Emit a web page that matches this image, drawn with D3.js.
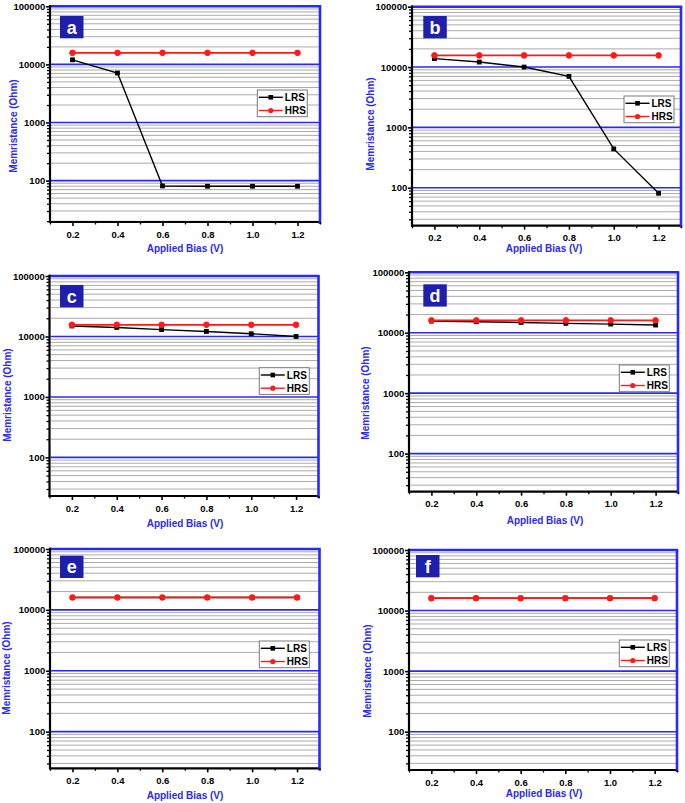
<!DOCTYPE html>
<html>
<head>
<meta charset="utf-8">
<script src="https://cdn.jsdelivr.net/npm/d3@7"></script>
<style>
  html, body { margin: 0; padding: 0; background: #ffffff; }
  svg { display: block; font-family: "Liberation Sans", Arial, sans-serif; }
</style>
</head>
<body>
<script>
// ---------- DATA ----------
const xValues = [0.2, 0.4, 0.6, 0.8, 1.0, 1.2];
const xTickValues = [0.2, 0.4, 0.6, 0.8, 1.0, 1.2];
const xTickLabels = ["0.2", "0.4", "0.6", "0.8", "1.0", "1.2"];
const xMinorTicks = [0.1, 0.3, 0.5, 0.7, 0.9, 1.1, 1.3];
const yTickValues = [100, 1000, 10000, 100000];
const yTickLabels = ["100", "1000", "10000", "100000"];
const seriesNames = ["LRS", "HRS"];
const panelLetters = ["a", "b", "c", "d", "e", "f"];

const lrsA = [12000, 7100, 81, 80, 80, 80];
const hrsA = [15800, 15800, 15800, 15800, 15800, 15800];
const lrsB = [13800, 12100, 10000, 7000, 440, 81];
const hrsB = [15600, 15600, 15600, 15600, 15600, 15600];
const lrsC = [14900, 14100, 13000, 12100, 11100, 10000];
const hrsC = [15600, 15600, 15600, 15600, 15600, 15600];
const lrsD = [15600, 15200, 14800, 14300, 13900, 13400];
const hrsD = [16000, 16000, 16000, 16000, 16000, 16000];
const lrsE = [16000, 16000, 16000, 16000, 16000, 16000];
const hrsE = [16000, 16000, 16000, 16000, 16000, 16000];
const lrsF = [16000, 16000, 16000, 16000, 16000, 16000];
const hrsF = [16000, 16000, 16000, 16000, 16000, 16000];

const lrsAll = [lrsA, lrsB, lrsC, lrsD, lrsE, lrsF];
const hrsAll = [hrsA, hrsB, hrsC, hrsD, hrsE, hrsF];
const yMins = [19.4, 23.5, 23, 23.4, 25, 23.3];

// ---------- LAYOUT ----------
const layout = [
  {left: 50,   right: 320,   top: 6.3,   bottom: 222,   lg: [257.3, 90],   lt: [60, 16],      yl: [13, 126],  xl: [185, 252]},
  {left: 412,  right: 681,   top: 6.7,   bottom: 225.7, lg: [624, 96],     lt: [423.3, 16],   yl: [370, 124], xl: [544, 252]},
  {left: 49.5, right: 318.5, top: 276,   bottom: 496,   lg: [259.3, 367.7],lt: [60, 285],     yl: [7, 395],   xl: [185, 527]},
  {left: 409,  right: 678,   top: 272.3, bottom: 491.7, lg: [619.3, 365],  lt: [423.3, 284.3],yl: [365, 393], xl: [545, 524]},
  {left: 50,   right: 319.5, top: 549,   bottom: 768.3, lg: [259.3, 641],  lt: [60, 555.7],   yl: [6, 668],   xl: [185, 799]},
  {left: 409,  right: 677,   top: 550,   bottom: 770,   lg: [619.3, 640],  lt: [416, 555],     yl: [367.3, 671],xl: [544, 797]}
];

const BLUE = "#2828ff";
const TITLE_BLUE = "#2a2af0";
const NAVY = "#1f1fae";
const RED = "#ff1a1a";

const svg = d3.select("body").append("svg")
  .attr("width", 685).attr("height", 803);

layout.forEach((p, idx) => {
  const yMin = yMins[idx];
  const x = d3.scaleLinear().domain([0.1, 1.3]).range([p.left, p.right]);
  const y = d3.scaleLog().domain([yMin, 100000]).range([p.bottom, p.top]);
  const g = svg.append("g");

  // minor values
  const minorVals = [];
  [1, 10, 100, 1000, 10000].forEach(dec => {
    for (let m = 2; m <= 9; m++) {
      const v = m * dec;
      if (v >= yMin && v < 100000) minorVals.push(v);
    }
  });

  // minor grid
  g.append("g").selectAll("line").data(minorVals).join("line")
    .attr("x1", p.left + 1).attr("x2", p.right)
    .attr("y1", d => y(d)).attr("y2", d => y(d))
    .attr("stroke", "#a2a2a2").attr("stroke-width", 0.9);

  // major blue grid
  g.append("g").selectAll("line").data(yTickValues.filter(v => v < 100000)).join("line")
    .attr("x1", p.left + 1).attr("x2", p.right)
    .attr("y1", d => y(d)).attr("y2", d => y(d))
    .attr("stroke", BLUE).attr("stroke-width", 1.6);

  // top & right borders
  g.append("line").attr("x1", p.left).attr("x2", p.right + 1.2)
    .attr("y1", y(100000)).attr("y2", y(100000))
    .attr("stroke", BLUE).attr("stroke-width", 2.6);
  g.append("line").attr("x1", p.right).attr("x2", p.right)
    .attr("y1", y(100000)).attr("y2", p.bottom + 2)
    .attr("stroke", BLUE).attr("stroke-width", 2.6);

  // Left axis (major)
  const yAxis = g.append("g").attr("transform", `translate(${p.left},0)`)
    .call(d3.axisLeft(y).tickValues(yTickValues)
      .tickFormat((d, i) => yTickLabels[i]).tickSize(4).tickSizeOuter(0).tickPadding(0.8));
  yAxis.select(".domain").remove();
  yAxis.selectAll(".tick line").attr("stroke", "#000").attr("stroke-width", 1.6);
  yAxis.selectAll(".tick text").attr("font-size", "9.5px").attr("font-weight", "bold")
    .attr("fill", "#000").attr("font-family", "Liberation Sans, Arial, sans-serif");
  // Left axis minor ticks
  const yMinor = g.append("g").attr("transform", `translate(${p.left},0)`)
    .call(d3.axisLeft(y).tickValues(minorVals).tickFormat("").tickSize(3).tickSizeOuter(0));
  yMinor.select(".domain").remove();
  yMinor.selectAll(".tick line").attr("stroke", "#000").attr("stroke-width", 1.3);

  // Bottom axis (major)
  const xAxis = g.append("g").attr("transform", `translate(0,${p.bottom})`)
    .call(d3.axisBottom(x).tickValues(xTickValues)
      .tickFormat((d, i) => xTickLabels[i]).tickSize(4).tickSizeOuter(0).tickPadding(5));
  xAxis.select(".domain").remove();
  xAxis.selectAll(".tick line").attr("stroke", "#000").attr("stroke-width", 1.6);
  xAxis.selectAll(".tick text").attr("font-size", "9.5px").attr("font-weight", "bold")
    .attr("fill", "#000").attr("font-family", "Liberation Sans, Arial, sans-serif");
  const xMinor = g.append("g").attr("transform", `translate(0,${p.bottom})`)
    .call(d3.axisBottom(x).tickValues(xMinorTicks).tickFormat("").tickSize(2.5).tickSizeOuter(0));
  xMinor.select(".domain").remove();
  xMinor.selectAll(".tick line").attr("stroke", "#000").attr("stroke-width", 1.3);

  // axis lines (black)
  g.append("line").attr("x1", p.left).attr("x2", p.left)
    .attr("y1", y(100000) - 1.3).attr("y2", p.bottom + 1)
    .attr("stroke", "#000").attr("stroke-width", 2.2);
  g.append("line").attr("x1", p.left - 1).attr("x2", p.right - 1)
    .attr("y1", p.bottom).attr("y2", p.bottom)
    .attr("stroke", "#000").attr("stroke-width", 2.2);

  // series
  const lrs = lrsAll[idx], hrs = hrsAll[idx];
  const line = vals => d3.line().x((d, i) => x(xValues[i])).y(d => y(d))(vals);

  g.append("path").attr("d", line(lrs)).attr("fill", "none")
    .attr("stroke", "#000").attr("stroke-width", 1.4);
  g.append("g").selectAll("rect").data(lrs).join("rect")
    .attr("x", (d, i) => x(xValues[i]) - 2.4).attr("y", d => y(d) - 2.4)
    .attr("width", 4.8).attr("height", 4.8).attr("fill", "#000");

  g.append("path").attr("d", line(hrs)).attr("fill", "none")
    .attr("stroke", RED).attr("stroke-width", 1.8);
  g.append("g").selectAll("circle").data(hrs).join("circle")
    .attr("cx", (d, i) => x(xValues[i])).attr("cy", d => y(d))
    .attr("r", 2.8).attr("fill", RED).attr("stroke", RED).attr("stroke-width", 1);

  // legend
  const [lx, ly] = p.lg;
  const lgW = 50, lgH = 26.7;
  const lg = g.append("g");
  lg.append("rect").attr("x", lx).attr("y", ly).attr("width", lgW).attr("height", lgH)
    .attr("fill", "#fff").attr("stroke", "#7a7a7a").attr("stroke-width", 1);
  const rows = [
    {name: seriesNames[0], color: "#000", marker: "square", dy: 7.3},
    {name: seriesNames[1], color: RED, marker: "circle", dy: 20.5}
  ];
  rows.forEach(r => {
    const cy = ly + r.dy;
    lg.append("line").attr("x1", lx + 1.5).attr("x2", lx + 25.5)
      .attr("y1", cy).attr("y2", cy).attr("stroke", r.color).attr("stroke-width", 1.4);
    if (r.marker === "square") {
      lg.append("rect").attr("x", lx + 13.5 - 2.3).attr("y", cy - 2.3)
        .attr("width", 4.6).attr("height", 4.6).attr("fill", r.color);
    } else {
      lg.append("circle").attr("cx", lx + 13.5).attr("cy", cy).attr("r", 2.6).attr("fill", r.color);
    }
    lg.append("text").attr("x", lx + 27.5).attr("y", cy).attr("dy", "0.36em")
      .attr("font-size", "10px").attr("font-weight", "bold").attr("fill", "#000")
      .text(r.name);
  });

  // panel letter
  const [tx, ty] = p.lt;
  g.append("rect").attr("x", tx).attr("y", ty).attr("width", 23.5).attr("height", 22.3)
    .attr("fill", NAVY);
  g.append("text").attr("x", tx + 11.75).attr("y", ty + 11.15).attr("dy", "0.36em")
    .attr("text-anchor", "middle").attr("font-size", "18px").attr("font-weight", "bold")
    .attr("fill", "#fff").text(panelLetters[idx]);

  // axis titles
  g.append("text")
    .attr("transform", `translate(${p.yl[0]},${p.yl[1]}) rotate(-90)`)
    .attr("dy", "0.36em").attr("text-anchor", "middle")
    .attr("font-size", "10px").attr("font-weight", "bold").attr("fill", TITLE_BLUE)
    .text("Memristance (Ohm)");
  g.append("text").attr("x", p.xl[0]).attr("y", p.xl[1])
    .attr("text-anchor", "middle")
    .attr("font-size", "10px").attr("font-weight", "bold").attr("fill", TITLE_BLUE)
    .text("Applied Bias (V)");
});
</script>
</body>
</html>
